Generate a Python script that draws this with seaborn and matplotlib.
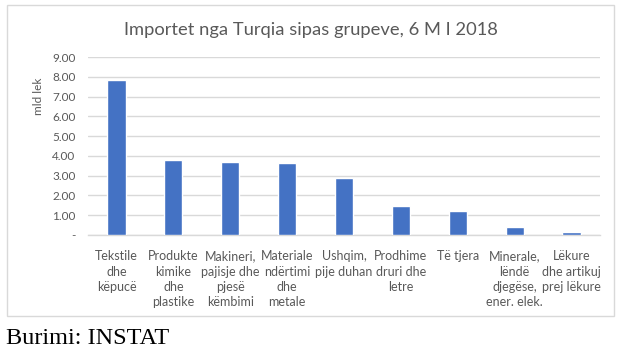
import matplotlib
matplotlib.use("Agg")
import matplotlib.pyplot as plt
import seaborn as sns
import pandas as pd
from matplotlib.patches import Rectangle

# data (mld lek)
categories = [
    "Tekstile\ndhe\nkëpucë",
    "Produkte\nkimike\ndhe\nplastike",
    "Makineri,\npajisje dhe\npjesë\nkëmbimi",
    "Materiale\nndërtimi\ndhe\nmetale",
    "Ushqim,\npije duhan",
    "Prodhime\ndruri dhe\nletre",
    "Të tjera",
    "Minerale,\nlëndë\ndjegëse,\nener. elek.",
    "Lëkure\ndhe artikuj\nprej lëkure",
]
values = [7.85, 3.81, 3.67, 3.64, 2.86, 1.47, 1.19, 0.41, 0.15]
yticks = [0, 1, 2, 3, 4, 5, 6, 7, 8, 9]
ytick_labels = ["-", "1.00", "2.00", "3.00", "4.00", "5.00", "6.00", "7.00", "8.00", "9.00"]

df = pd.DataFrame({"grupi": categories, "vlera": values})

sns.set_theme(style="white")
plt.rcParams["font.family"] = ["Lato", "DejaVu Sans"]

txt = "#595959"
grid = "#d9d9d9"

fig = plt.figure(figsize=(6.33, 3.61), dpi=100)
W, H = 633, 361
ax = fig.add_axes([88 / W, 1 - 235 / H, (600 - 88) / W, (235 - 57) / H])

sns.barplot(data=df, x="grupi", y="vlera", color="#4472C4", width=0.32,
            saturation=1, ax=ax, zorder=3)

ax.set_ylim(0, 9)
ax.set_xlim(-0.5, len(categories) - 0.5)
ax.set_yticks(yticks)
ax.set_yticklabels(ytick_labels, color=txt, fontsize=8.5)
ax.set_xticks(range(len(categories)))
ax.set_xticklabels(categories, color=txt, fontsize=9, linespacing=1.33, va="top")
ax.tick_params(axis="y", length=0, pad=9)
ax.tick_params(axis="x", length=0, pad=11)
ax.yaxis.grid(True, color=grid, linewidth=1, zorder=0)
ax.set_axisbelow(True)
for s in ["top", "right", "left"]:
    ax.spines[s].set_visible(False)
ax.spines["bottom"].set_color(grid)
ax.spines["bottom"].set_linewidth(1)
ax.set_xlabel("")
ax.set_ylabel("")

fig.text(38 / W, 1 - 96 / H, "mld lek", rotation=90, ha="center", va="center",
         color=txt, fontsize=8.5)
fig.text(311 / W, 1 - 30 / H, "Importet nga Turqia sipas grupeve, 6 M I 2018",
         ha="center", va="center", color=txt, fontsize=13.2)

# outer chart frame
fig.patches.append(Rectangle((7 / W, 1 - 316 / H), (614 - 7) / W, (316 - 5) / H,
                             transform=fig.transFigure, fill=False,
                             edgecolor=grid, linewidth=1))

fig.text(6 / W, 1 - 339 / H, "Burimi: INSTAT", ha="left", va="center",
         family="Liberation Serif", fontsize=17.5, color="black")

fig.savefig("out.png", dpi=100)
